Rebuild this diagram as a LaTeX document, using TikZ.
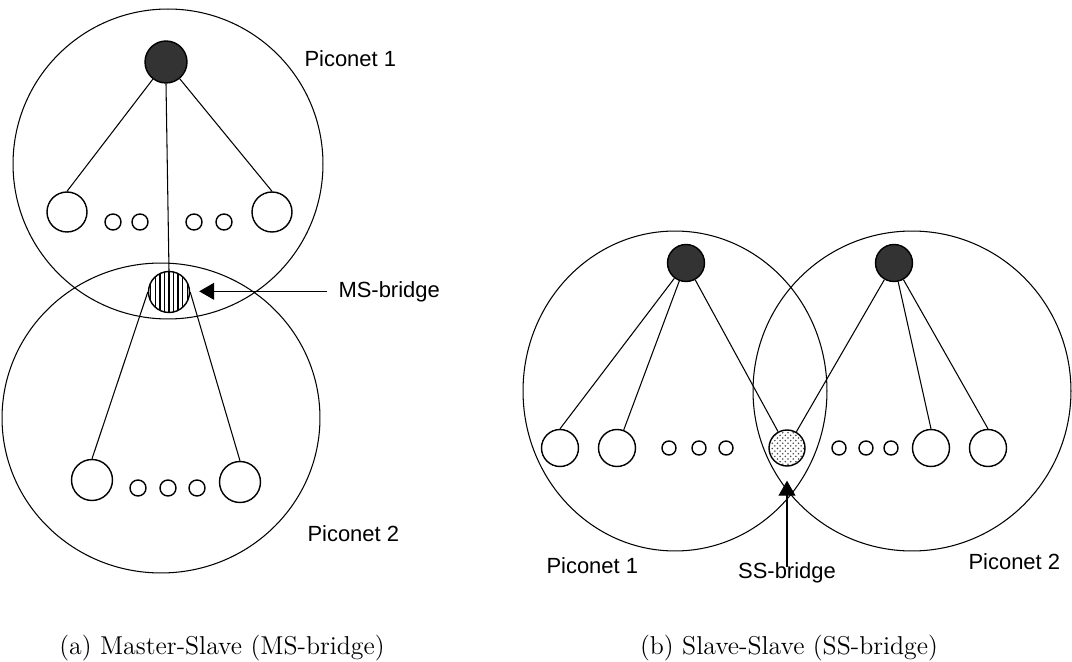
\documentclass[tikz,border=0pt]{standalone}
\usepackage{fontspec}
\usepackage{tikz}
\newfontfamily\arialfont{Liberation Sans}
\usetikzlibrary{arrows.meta, patterns, positioning}

% denser stripes for the bridge node
\pgfdeclarepatternformonly{bridgestripes}{\pgfqpoint{-1pt}{-1pt}}{\pgfqpoint{3.6pt}{3.6pt}}{\pgfqpoint{2.6pt}{2.6pt}}{
  \pgfsetlinewidth{0.75pt}
  \pgfpathmoveto{\pgfqpoint{0pt}{-0.1pt}}
  \pgfpathlineto{\pgfqpoint{0pt}{2.7pt}}
  \pgfusepath{stroke}
}

\tikzset{
  master/.style={circle, draw, line width=0.8pt, fill=black!80, inner sep=0pt},
  slave/.style={circle, draw, line width=0.8pt, fill=white, inner sep=0pt},
  netlabel/.style={font=\arialfont\fontsize{12.5}{14}\selectfont, inner sep=0pt},
  subcap/.style={font=\fontsize{14.7}{17}\selectfont, inner sep=0pt}
}

\begin{document}
\begin{tikzpicture}[x=0.02cm, y=-0.02cm, line width=0.6pt]
\useasboundingbox (0,0) rectangle (1072,662);

% ---- (a) master-slave bridge ----
\draw (168,164) circle (3.1cm);
\draw (161,418) ellipse (3.18cm and 3.1cm);

% Piconet 1
\node[master, minimum size=0.84cm] (m1) at (166,62) {};
\node[slave, minimum size=0.8cm] (s1a) at (67,212) {};
\node[slave, minimum size=0.8cm] (s1b) at (272,212) {};
\foreach \x [count=\i] in {113,140,194,224} {
    \node[slave, minimum size=0.32cm] (d1\i) at (\x,222) {};
}
\node[netlabel, anchor=base west] (pn1a) at (304,67) {Piconet 1};

% Bridge node
\node[circle, draw, line width=0.8pt, pattern=bridgestripes, minimum size=0.82cm] (br1) at (169,292) {};

% Piconet 2
\node[slave, minimum size=0.82cm] (s2a) at (92,480) {};
\node[slave, minimum size=0.82cm] (s2b) at (240,482) {};
\foreach \x [count=\i] in {138,168,197} {
    \node[slave, minimum size=0.32cm] (d2\i) at (\x,488) {};
}
\node[netlabel, anchor=base west] (pn2a) at (307,541) {Piconet 2};

\draw (m1) -- (s1a.north);
\draw (m1) -- (s1b.north);
\draw (m1.south) -- (br1.north);
\draw (br1.west) -- (s2a.north);
\draw (br1.east) -- (s2b.north);

\node[netlabel, anchor=base west] (mslbl) at (338,297) {MS-bridge};
\draw[-{Triangle[length=0.3cm, width=0.34cm]}, shorten <=0.22cm, shorten >=0.18cm]
    (mslbl.west) -- (mslbl.west -| br1.east);

\node[subcap, anchor=base] (capa) at (222,654) {(a) Master-Slave (MS-bridge)};

% ---- (b) slave-slave bridge ----
\draw (675,391) ellipse (3.04cm and 3.2cm);
\draw (912,391) ellipse (3.18cm and 3.2cm);

\node[master, minimum size=0.74cm] (ma) at (686,263) {};
\node[master, minimum size=0.74cm] (mb) at (894,263) {};

\node[slave, minimum size=0.74cm] (sa1) at (560,448) {};
\node[slave, minimum size=0.74cm] (sa2) at (617,448) {};
\node[slave, minimum size=0.74cm] (sb1) at (931,448) {};
\node[slave, minimum size=0.74cm] (sb2) at (988,448) {};
\foreach \x [count=\i] in {669,699,726,839,866,891} {
    \node[slave, minimum size=0.28cm] (d3\i) at (\x,448) {};
}

% Shared slave
\node[circle, draw, line width=0.8pt, pattern=crosshatch dots, pattern color=black!70, minimum size=0.72cm] (brs) at (787,448) {};

\draw (ma) -- (sa1.north);
\draw (ma) -- (sa2);
\draw (ma) -- (brs);
\draw (mb) -- (brs);
\draw (mb) -- (sb1.north);
\draw (mb) -- (sb2.north);

\node[netlabel, anchor=base west] (pn1b) at (546,573) {Piconet 1};
\node[netlabel, anchor=base west] (pn2b) at (968,569) {Piconet 2};
\node[netlabel, anchor=base] (sslbl) at (787,578) {SS-bridge};
\draw[-{Triangle[length=0.3cm, width=0.34cm]}, shorten <=-0.1cm, shorten >=0.28cm]
    (sslbl.north) -- (sslbl.north |- brs.south);

\node[subcap, anchor=base] (capb) at (789,654) {(b) Slave-Slave (SS-bridge)};
\end{tikzpicture}
\end{document}
